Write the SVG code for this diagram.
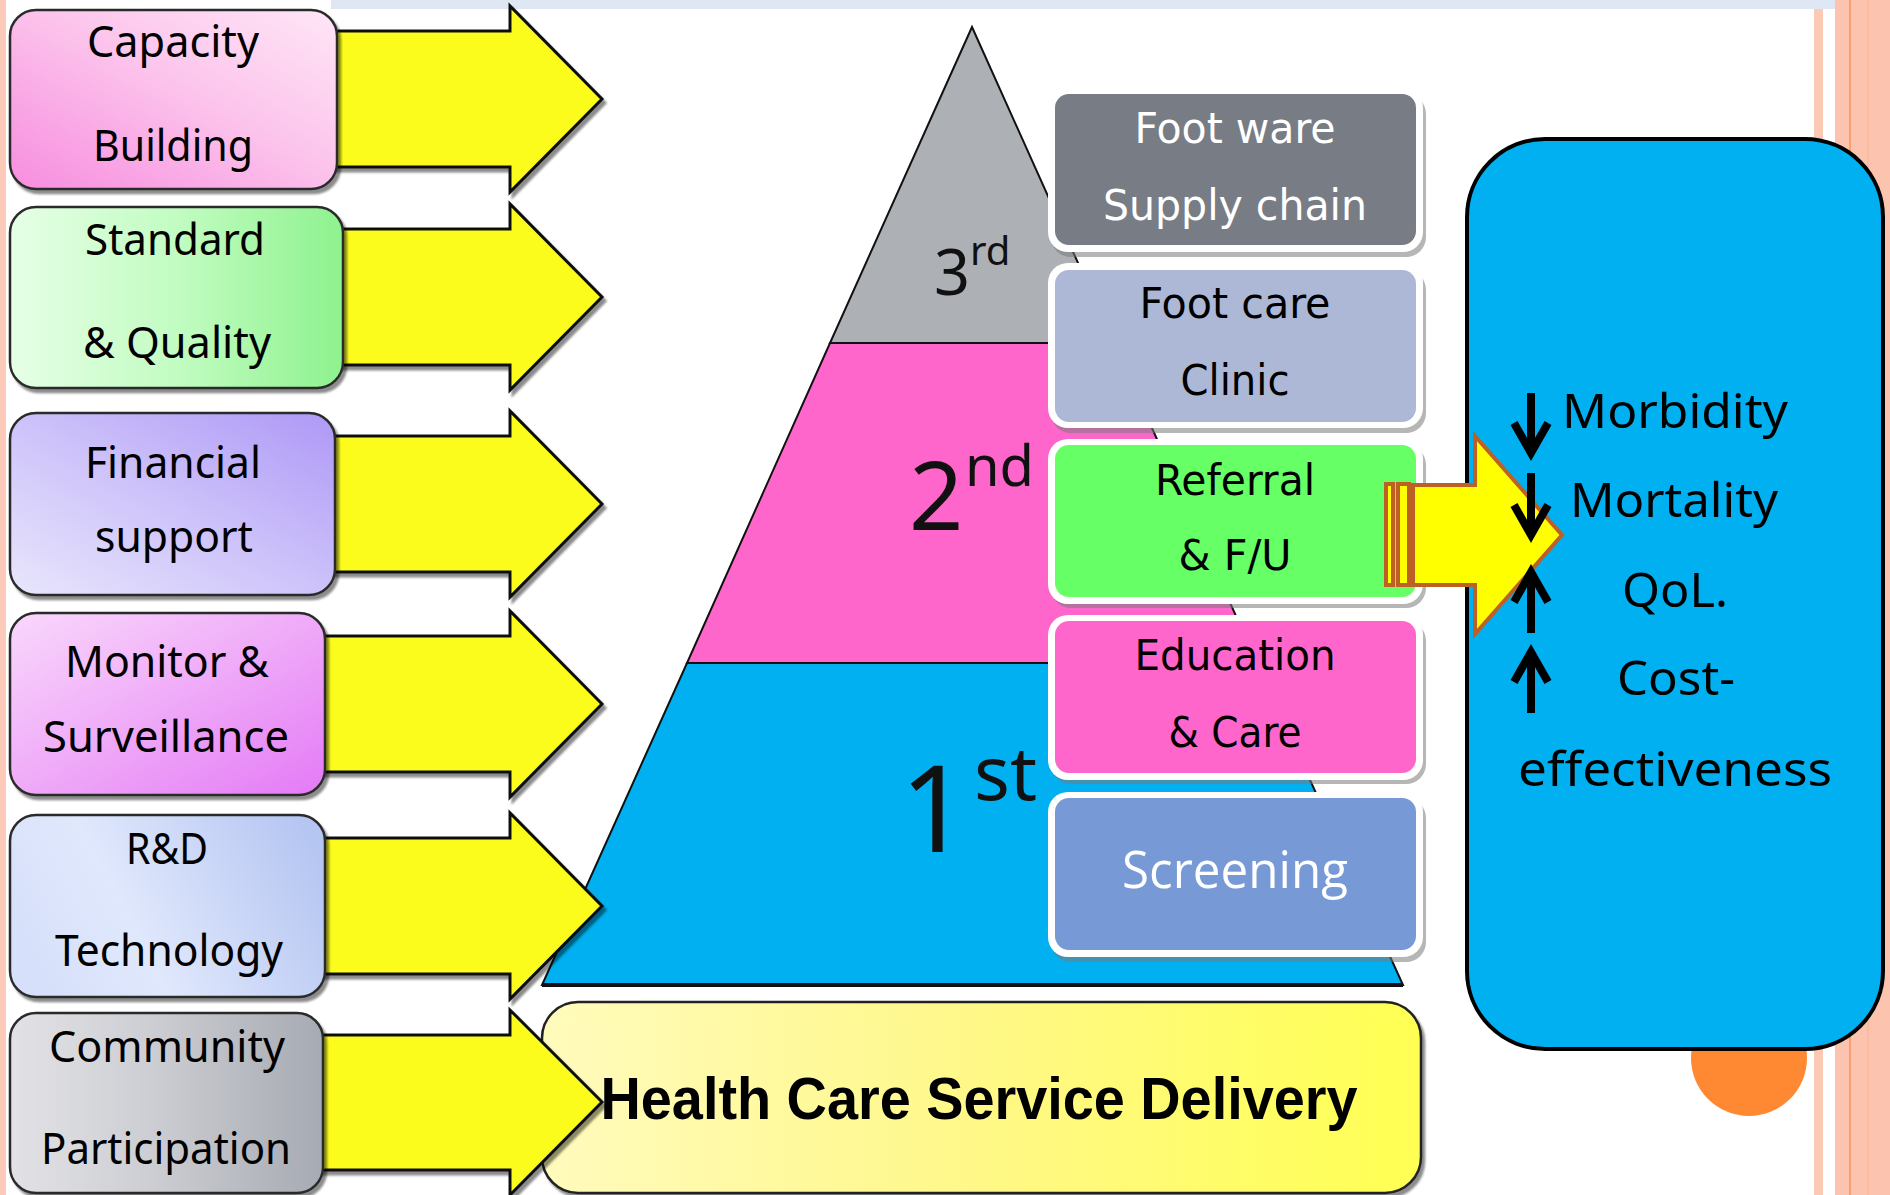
<svg xmlns="http://www.w3.org/2000/svg" width="1890" height="1195" viewBox="0 0 1890 1195">
  <defs>
    <style>
      .lbl { font-family: "Noto Sans", "Open Sans", "DejaVu Sans", sans-serif; font-size: 43px; fill: #000; text-anchor: middle; }
      .svc { font-family: "Liberation Sans Narrow", "DejaVu Sans Condensed", "Liberation Sans", sans-serif; font-size: 42px; text-anchor: middle; }
      .tier { font-family: "Noto Sans", "Open Sans", sans-serif; fill: #111; }
      .out { font-family: "Noto Sans", "Open Sans", sans-serif; font-size: 48px; fill: #000; text-anchor: middle; }
      .lbox { stroke: #2b2b2b; stroke-width: 2.5; filter: url(#shadow); }
      .yarrow { fill: #fcfc1c; stroke: #111; stroke-width: 3; stroke-linejoin: miter; filter: url(#shadow); }
      .svc-shadow { fill: #7a7a7a; opacity: 0.55; }
      .svc-rim { fill: #ffffff; }
      .trend { fill: none; stroke: #000; stroke-width: 8; stroke-linecap: butt; stroke-linejoin: miter; }
    </style>
    <filter id="shadow" x="-10%" y="-10%" width="125%" height="130%">
      <feDropShadow dx="3" dy="4" stdDeviation="1.2" flood-color="#000" flood-opacity="0.45"/>
    </filter>
    <linearGradient id="gPink" x1="0" y1="1" x2="1" y2="0">
      <stop offset="0" stop-color="#f78ddf"/>
      <stop offset="0.55" stop-color="#fcc4ec"/>
      <stop offset="1" stop-color="#ffe6f6"/>
    </linearGradient>
    <linearGradient id="gGreen" x1="0" y1="0" x2="1" y2="0">
      <stop offset="0" stop-color="#e6ffe6"/>
      <stop offset="0.5" stop-color="#c2fcc2"/>
      <stop offset="1" stop-color="#8ef28e"/>
    </linearGradient>
    <linearGradient id="gViolet" x1="0" y1="1" x2="1" y2="0">
      <stop offset="0" stop-color="#e8e6fc"/>
      <stop offset="0.5" stop-color="#cdc2fa"/>
      <stop offset="1" stop-color="#ae98f6"/>
    </linearGradient>
    <linearGradient id="gOrchid" x1="0" y1="0" x2="1" y2="1">
      <stop offset="0" stop-color="#f9d8fc"/>
      <stop offset="0.5" stop-color="#efaaf8"/>
      <stop offset="1" stop-color="#e47af6"/>
    </linearGradient>
    <linearGradient id="gSky" x1="0" y1="0.6" x2="1" y2="0.3">
      <stop offset="0" stop-color="#d6e0fa"/>
      <stop offset="0.35" stop-color="#e0e8fc"/>
      <stop offset="1" stop-color="#b6c6f2"/>
    </linearGradient>
    <linearGradient id="gGray" x1="0" y1="0.5" x2="1" y2="0.5">
      <stop offset="0" stop-color="#e2e2e6"/>
      <stop offset="0.45" stop-color="#cdced3"/>
      <stop offset="1" stop-color="#a6aab2"/>
    </linearGradient>
    <linearGradient id="gCream" x1="0" y1="0.5" x2="1" y2="0.5">
      <stop offset="0" stop-color="#fffbbc"/>
      <stop offset="0.5" stop-color="#fff887"/>
      <stop offset="1" stop-color="#ffff52"/>
    </linearGradient>
  </defs>

  <!-- page background and slide trim -->
  <rect x="0" y="0" width="1890" height="1195" fill="#ffffff"/>
  <rect x="331" y="0" width="1519" height="9" fill="#dfe7f5"/>
  <rect x="0" y="0" width="6" height="1195" fill="#fbcab8"/>
  <rect x="1814" y="9" width="9" height="1186" fill="#fcc9b5"/>
  <rect x="1835" y="0" width="55" height="1195" fill="#fcc4ae"/>
  <line x1="1850" y1="0" x2="1850" y2="1195" stroke="#f8955e" stroke-width="1.5"/>
  <line x1="1868" y1="0" x2="1868" y2="1195" stroke="#fab294" stroke-width="1"/>
  <circle cx="1749" cy="1058" r="58" fill="#ff8833"/>

  <!-- outcome panel -->
  <g id="outcomes">
    <rect x="1467" y="139" width="416" height="910" rx="78" ry="78" fill="#00b0f0" stroke="#000" stroke-width="4"/>
    <text class="out" x="1675" y="428" textLength="226" lengthAdjust="spacingAndGlyphs">Morbidity</text>
    <text class="out" x="1674" y="517" textLength="208" lengthAdjust="spacingAndGlyphs">Mortality</text>
    <text class="out" x="1675" y="607" textLength="106" lengthAdjust="spacingAndGlyphs">QoL.</text>
    <text class="out" x="1676" y="695" textLength="118" lengthAdjust="spacingAndGlyphs">Cost-</text>
    <text class="out" x="1675" y="786" textLength="314" lengthAdjust="spacingAndGlyphs">effectiveness</text>
  </g>

  <!-- three-level pyramid -->
  <g id="pyramid">
    <polygon points="972,27 830,343 1114,343" fill="#adb0b5" stroke="#111" stroke-width="2"/>
    <polygon points="830,343 1114,343 1257,663 687,663" fill="#ff66cc" stroke="#111" stroke-width="2"/>
    <polygon points="687,663 1257,663 1403,985 542,985" fill="#00b0f0" stroke="#111" stroke-width="2"/>
    <line x1="542" y1="985" x2="1403" y2="985" stroke="#111" stroke-width="4"/>
    <text class="tier" x="934" y="295" font-size="63">3</text>
    <text class="tier" x="970" y="265" font-size="40">rd</text>
    <text class="tier" x="909" y="530" font-size="95">2</text>
    <text class="tier" x="965" y="486" font-size="56">nd</text>
    <text class="tier" x="900" y="852" font-size="120">1</text>
    <text class="tier" x="974" y="800" font-size="75">st</text>
  </g>

  <!-- service boxes beside the pyramid -->
  <g id="svc-footware">
    <rect class="svc-shadow" x="1051" y="94" width="375" height="163" rx="20"/>
    <rect class="svc-rim" x="1048" y="88" width="375" height="164" rx="20"/>
    <rect x="1055" y="94" width="361" height="151" rx="14" fill="#787c85"/>
    <text class="svc" x="1235" y="143" fill="#ffffff" textLength="201" lengthAdjust="spacingAndGlyphs">Foot ware</text>
    <text class="svc" x="1235" y="220" fill="#ffffff" textLength="264" lengthAdjust="spacingAndGlyphs">Supply chain</text>
  </g>
  <g id="svc-footcare">
    <rect class="svc-shadow" x="1051" y="270" width="375" height="163" rx="20"/>
    <rect class="svc-rim" x="1048" y="263" width="375" height="165" rx="20"/>
    <rect x="1055" y="270" width="361" height="152" rx="14" fill="#adb8d6"/>
    <text class="svc" x="1235" y="318" fill="#000" textLength="191" lengthAdjust="spacingAndGlyphs">Foot care</text>
    <text class="svc" x="1235" y="395" fill="#000" textLength="109" lengthAdjust="spacingAndGlyphs">Clinic</text>
  </g>
  <g id="svc-referral">
    <rect class="svc-shadow" x="1051" y="445" width="375" height="163" rx="20"/>
    <rect class="svc-rim" x="1048" y="439" width="375" height="165" rx="20"/>
    <rect x="1055" y="445" width="361" height="152" rx="14" fill="#66ff66"/>
    <text class="svc" x="1235" y="495" fill="#000" textLength="160" lengthAdjust="spacingAndGlyphs">Referral</text>
    <text class="svc" x="1235" y="570" fill="#000" textLength="113" lengthAdjust="spacingAndGlyphs">&amp; F/U</text>
  </g>
  <g id="svc-education">
    <rect class="svc-shadow" x="1051" y="621" width="375" height="163" rx="20"/>
    <rect class="svc-rim" x="1048" y="615" width="375" height="165" rx="20"/>
    <rect x="1055" y="621" width="361" height="152" rx="14" fill="#ff66cc"/>
    <text class="svc" x="1235" y="670" fill="#000" textLength="201" lengthAdjust="spacingAndGlyphs">Education</text>
    <text class="svc" x="1235" y="747" fill="#000" textLength="133" lengthAdjust="spacingAndGlyphs">&amp; Care</text>
  </g>
  <g id="svc-screening">
    <rect class="svc-shadow" x="1051" y="798" width="375" height="164" rx="20"/>
    <rect class="svc-rim" x="1048" y="792" width="375" height="165" rx="20"/>
    <rect x="1055" y="798" width="361" height="152" rx="14" fill="#7799d6"/>
    <text x="1235" y="888" fill="#ffffff" font-family="Open Sans, Noto Sans, sans-serif" font-size="52" text-anchor="middle" textLength="226" lengthAdjust="spacingAndGlyphs">Screening</text>
  </g>

  <!-- service delivery base -->
  <g id="service-delivery">
    <rect x="542" y="1002" width="879" height="191" rx="36" ry="36" fill="url(#gCream)" stroke="#222" stroke-width="2.5" filter="url(#shadow)"/>
  </g>

  <!-- connectors: block arrows from each enabler, and the referral arrow to outcomes -->
  <g id="connectors">
    <path class="yarrow" d="M325,31 H510 V6 L602,99 L510,192 V167 H325 Z"/>
    <path class="yarrow" d="M330,229 H510 V204 L602,297 L510,390 V365 H330 Z"/>
    <path class="yarrow" d="M323,436 H510 V411 L602,504 L510,597 V572 H323 Z"/>
    <path class="yarrow" d="M313,636 H510 V611 L602,704 L510,797 V772 H313 Z"/>
    <path class="yarrow" d="M313,838 H510 V813 L602,906 L510,999 V974 H313 Z"/>
    <path class="yarrow" d="M311,1035 H510 V1010 L602,1102 L510,1195 V1170 H311 Z"/>
    <g fill="#ffff00" stroke="#bd6024" stroke-width="4" stroke-linejoin="miter">
      <rect x="1386" y="484" width="7" height="101"/>
      <rect x="1398" y="484" width="11" height="101"/>
      <path d="M1413,485 H1475 V436 L1562,535 L1475,634 V585 H1413 Z"/>
    </g>
  </g>

  <!-- trend markers for the outcomes: down, down, up, up -->
  <g id="outcome-trends">
    <path class="trend" d="M1531,393 V452 M1514,423 L1531,453 L1548,423"/>
    <path class="trend" d="M1531,473 V532 M1514,505 L1531,535 L1548,505"/>
    <path class="trend" d="M1531,575 V633 M1514,602 L1531,572 L1548,602"/>
    <path class="trend" d="M1531,655 V713 M1514,682 L1531,652 L1548,682"/>
  </g>

  <g id="service-delivery-label">
    <text x="979" y="1119" font-family="Liberation Sans, Arial, sans-serif" font-weight="bold" font-size="60" text-anchor="middle" fill="#000" textLength="757" lengthAdjust="spacingAndGlyphs">Health Care Service Delivery</text>
  </g>

  <!-- enabler boxes on the left -->
  <g id="capacity-building">
    <rect class="lbox" x="10" y="10" width="327" height="179" rx="26" fill="url(#gPink)"/>
    <text class="lbl" x="173" y="57" textLength="172" lengthAdjust="spacingAndGlyphs">Capacity</text>
    <text class="lbl" x="173" y="161" textLength="160" lengthAdjust="spacingAndGlyphs">Building</text>
  </g>
  <g id="standard-quality">
    <rect class="lbox" x="10" y="207" width="333" height="181" rx="26" fill="url(#gGreen)"/>
    <text class="lbl" x="175" y="255" textLength="180" lengthAdjust="spacingAndGlyphs">Standard</text>
    <text class="lbl" x="177" y="358" textLength="188" lengthAdjust="spacingAndGlyphs">&amp; Quality</text>
  </g>
  <g id="financial-support">
    <rect class="lbox" x="10" y="413" width="325" height="182" rx="26" fill="url(#gViolet)"/>
    <text class="lbl" x="173" y="478" textLength="176" lengthAdjust="spacingAndGlyphs">Financial</text>
    <text class="lbl" x="174" y="552" textLength="158" lengthAdjust="spacingAndGlyphs">support</text>
  </g>
  <g id="monitor-surveillance">
    <rect class="lbox" x="10" y="613" width="315" height="182" rx="26" fill="url(#gOrchid)"/>
    <text class="lbl" x="167" y="677" textLength="204" lengthAdjust="spacingAndGlyphs">Monitor &amp;</text>
    <text class="lbl" x="166" y="752" textLength="246" lengthAdjust="spacingAndGlyphs">Surveillance</text>
  </g>
  <g id="rd-technology">
    <rect class="lbox" x="10" y="815" width="315" height="182" rx="26" fill="url(#gSky)"/>
    <text class="lbl" x="167" y="864" textLength="82" lengthAdjust="spacingAndGlyphs">R&amp;D</text>
    <text class="lbl" x="169" y="966" textLength="228" lengthAdjust="spacingAndGlyphs">Technology</text>
  </g>
  <g id="community-participation">
    <rect class="lbox" x="10" y="1013" width="313" height="180" rx="26" fill="url(#gGray)"/>
    <text class="lbl" x="167" y="1062" textLength="236" lengthAdjust="spacingAndGlyphs">Community</text>
    <text class="lbl" x="166" y="1164" textLength="250" lengthAdjust="spacingAndGlyphs">Participation</text>
  </g>
</svg>
